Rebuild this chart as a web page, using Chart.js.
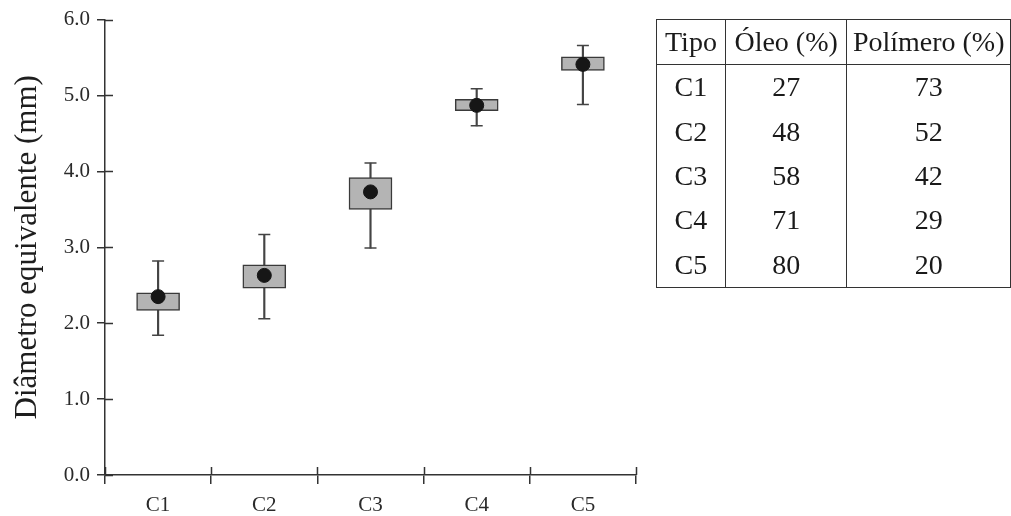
<!DOCTYPE html>
<html>
<head>
<meta charset="utf-8">
<script src="https://cdn.jsdelivr.net/npm/chart.js@4/dist/chart.umd.min.js"></script>
<style>
  html, body { margin: 0; padding: 0; background: #fff; }
  #wrap { position: relative; width: 1011px; height: 516px; }
  #tbl { position: absolute; left: 656px; top: 19px; border-collapse: collapse;
         font-family: "Liberation Serif", "Times New Roman", serif; font-size: 28px; color: #1a1a1a;
         border: 1.5px solid #333; }
  #tbl th, #tbl td { text-align: center; padding: 0; font-weight: normal; border-left: 1.5px solid #333; border-right: 1.5px solid #333; line-height: 1; }
  #tbl th { height: 44px; border-bottom: 1.5px solid #333; }
  #tbl td { height: 44.4px; }
</style>
</head>
<body>
<div id="wrap">
  <canvas id="c" width="1011" height="516"></canvas>
  <table id="tbl"></table>
</div>
<script>
// ---- data ----
const categories   = ['C1', 'C2', 'C3', 'C4', 'C5'];
const whiskerLow   = [1.84, 2.06, 2.99, 4.60, 4.88];
const boxLow       = [2.17, 2.46, 3.50, 4.80, 5.33];
const boxHigh      = [2.40, 2.77, 3.92, 4.95, 5.51];
const whiskerHigh  = [2.82, 3.17, 4.11, 5.09, 5.66];
const meanValues   = [2.35, 2.63, 3.73, 4.87, 5.41];
const yTicks       = [0, 1, 2, 3, 4, 5, 6];

const tableHeader  = ['Tipo', 'Óleo (%)', 'Polímero (%)'];
const tipo         = ['C1', 'C2', 'C3', 'C4', 'C5'];
const oleo         = [27, 48, 58, 71, 80];
const polimero     = [73, 52, 42, 29, 20];

// ---- table ----
const tbl = document.getElementById('tbl');
const colW = [68, 121, 163];
let html = '<tr>' + tableHeader.map((h, i) => `<th style="width:${colW[i]}px">${h}</th>`).join('') + '</tr>';
tipo.forEach((t, i) => {
  html += `<tr><td>${t}</td><td>${oleo[i]}</td><td>${polimero[i]}</td></tr>`;
});
tbl.innerHTML = html;

// ---- chart ----
const AX = '#333';
const serif = '"Liberation Serif", "Times New Roman", serif';

const innerTicks = {
  id: 'innerTicks',
  afterDraw(chart) {
    const ctx = chart.ctx, y = chart.scales.y, a = chart.chartArea;
    ctx.save();
    ctx.strokeStyle = AX; ctx.lineWidth = 1.5;
    ctx.beginPath();
    yTicks.forEach(v => {
      const p = Math.round(y.getPixelForValue(v)) + 0.5;
      ctx.moveTo(a.left, p); ctx.lineTo(a.left + 8, p);
    });
    const n = categories.length;
    for (let i = 0; i <= n; i++) {
      const p = Math.round(a.left + i * (a.right - a.left) / n) + 0.5;
      ctx.moveTo(p, a.bottom); ctx.lineTo(p, a.bottom - 8);
    }
    ctx.stroke();
    ctx.restore();
  }
};

new Chart(document.getElementById('c'), {
  data: {
    labels: categories,
    datasets: [
      { type: 'line', data: meanValues, showLine: false, pointRadius: 7, pointHoverRadius: 7,
        pointBackgroundColor: '#161616', pointBorderColor: '#161616', order: 0 },
      { type: 'bar', data: categories.map((c, i) => [boxLow[i], boxHigh[i]]), barThickness: 43,
        backgroundColor: '#b4b4b4', borderColor: '#3a3a3a', borderWidth: 1.5, borderSkipped: false,
        grouped: false, order: 1 },
      { type: 'line', data: whiskerHigh, showLine: false, pointStyle: 'line', pointRadius: 6,
        pointBorderWidth: 1.5, pointBorderColor: '#444', order: 2 },
      { type: 'line', data: whiskerLow, showLine: false, pointStyle: 'line', pointRadius: 6,
        pointBorderWidth: 1.5, pointBorderColor: '#444', order: 2 },
      { type: 'bar', data: categories.map((c, i) => [whiskerLow[i], whiskerHigh[i]]), barThickness: 1.5,
        backgroundColor: '#444', borderWidth: 0, grouped: false, order: 3 }
    ]
  },
  options: {
    responsive: false,
    animation: false,
    events: [],
    layout: { padding: { top: 19, right: 375, left: 0, bottom: 0 } },
    plugins: { legend: { display: false }, tooltip: { enabled: false } },
    scales: {
      x: {
        offset: true,
        grid: { offset: true, drawOnChartArea: false, tickLength: 9, color: AX, lineWidth: 1.5 },
        border: { display: true, color: AX, width: 1.5 },
        ticks: { font: { family: serif, size: 21 }, color: '#2a2a2a', padding: 9 },
        afterFit(s) { s.height = 41; }
      },
      y: {
        min: 0, max: 6,
        afterBuildTicks(s) { s.ticks = yTicks.map(v => ({ value: v })); },
        grid: { drawOnChartArea: false, tickLength: 8, color: AX, lineWidth: 1.5 },
        border: { display: true, color: AX, width: 1.5 },
        ticks: { font: { family: serif, size: 21 }, color: '#2a2a2a', padding: 7,
                 callback: v => Number(v).toFixed(1) },
        title: { display: true, text: 'Diâmetro equivalente (mm)', font: { family: serif, size: 31 },
                 color: '#1e1e1e', padding: { top: 9, bottom: 0 } },
        afterFit(s) { s.width = 105; }
      }
    }
  },
  plugins: [innerTicks]
});
</script>
</body>
</html>
